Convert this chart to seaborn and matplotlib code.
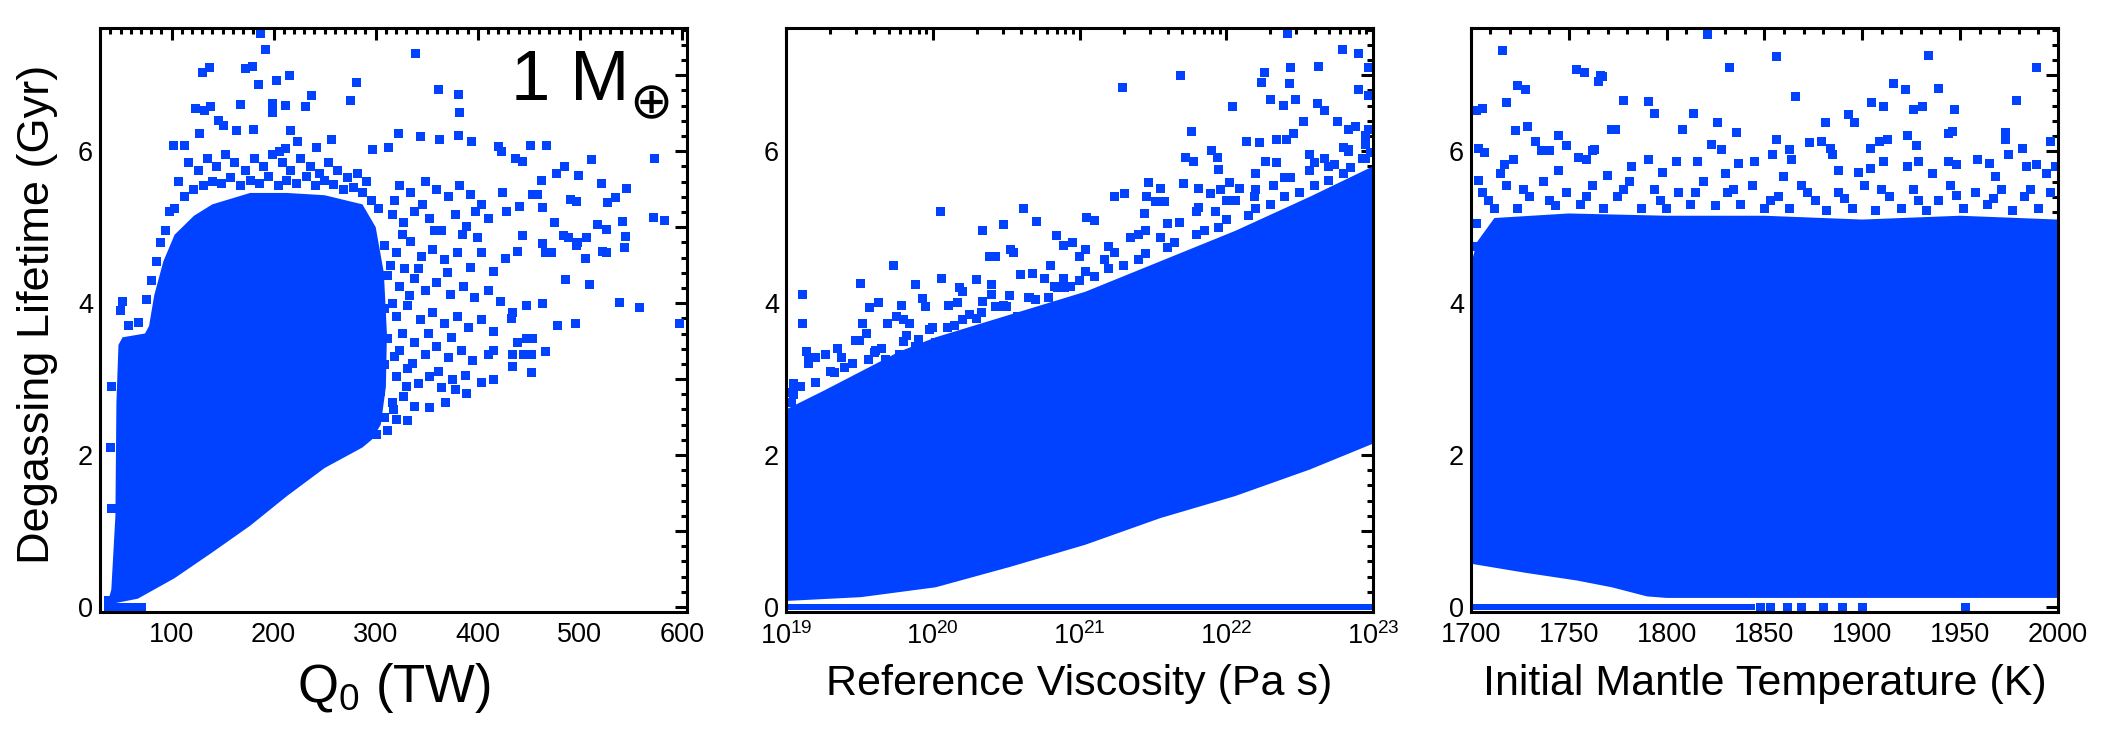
import numpy as np
import matplotlib
matplotlib.use("Agg")
import matplotlib.pyplot as plt
import seaborn as sns
from matplotlib.ticker import MultipleLocator, LogLocator, NullFormatter, FuncFormatter

# ---------------- data ----------------
BLUE = "#0042ff"

# Panel 1: Q0 (TW) vs degassing lifetime (Gyr); densely filled region outline
p1_core_q = [37, 48, 67, 103, 140, 177, 213, 250, 287, 296, 305, 310, 311, 308, 300, 287,
             250, 213, 177, 140, 122, 103, 92, 83, 78, 74, 52, 48, 46, 45, 41, 37]
p1_core_t = [0.03, 0.06, 0.11, 0.38, 0.72, 1.07, 1.46, 1.83, 2.10, 2.20, 2.40, 2.9, 3.6,
             4.4, 5.0, 5.3, 5.42, 5.45, 5.45, 5.3, 5.15, 4.9, 4.55, 4.1, 3.7, 3.6, 3.55,
             3.45, 2.69, 1.2, 0.23, 0.03]
# individual runs outside the dense region (Q0, lifetime)
p1_points = [
    (187, 7.55), (192, 7.34), (130, 7.04), (137, 7.10), (172, 7.09), (179, 7.12), (185, 6.88),
    (203, 6.93), (216, 6.99), (339, 7.28), (281, 6.90), (362, 6.81), (381, 6.74), (382, 6.51),
    (275, 6.67), (237, 6.73), (231, 6.59), (199, 6.63), (199, 6.51), (212, 6.60), (168, 6.62),
    (123, 6.56), (132, 6.53), (138, 6.59), (146, 6.40), (151, 6.34), (164, 6.27), (180, 6.28),
    (217, 6.27), (127, 6.23), (322, 6.23), (344, 6.19), (363, 6.16), (381, 6.20), (257, 6.16),
    (223, 6.13), (242, 6.05), (212, 6.04), (206, 5.99), (102, 6.07), (113, 6.08), (297, 6.02),
    (313, 6.05), (394, 6.13), (420, 6.06), (423, 6.00), (452, 6.08), (467, 6.08), (511, 5.89),
    (573, 5.90), (477, 5.70), (485, 5.80), (499, 5.68), (521, 5.58), (535, 5.39), (546, 5.51),
    (437, 5.90), (444, 5.87), (462, 5.61), (424, 5.46), (454, 5.43), (459, 5.43), (491, 5.36),
    (497, 5.34), (527, 5.33), (572, 5.13), (583, 5.09), (517, 5.04), (526, 4.97), (542, 5.07),
    (428, 5.20), (441, 5.27), (463, 5.26), (484, 4.89), (489, 4.86), (498, 4.80), (507, 4.87),
    (475, 5.06), (463, 4.79), (444, 4.89), (545, 4.88), (544, 4.73), (526, 4.66), (506, 4.59),
    (522, 4.68), (427, 4.59), (439, 4.68), (497, 4.76), (466, 4.66), (472, 4.67), (509, 4.25),
    (486, 4.31), (539, 4.01), (558, 3.94), (448, 3.97), (463, 3.99), (478, 3.70), (496, 3.73),
    (598, 3.73), (434, 3.88), (433, 3.80), (448, 3.53), (454, 3.53), (439, 3.48), (466, 3.36),
    (434, 3.32), (445, 3.32), (453, 3.32), (434, 3.16), (453, 3.09), (415, 3.38), (411, 3.33),
    (415, 2.99), (404, 2.96), (389, 2.81), (378, 2.86), (368, 2.69), (353, 2.63), (331, 2.46),
    (312, 2.32), (301, 2.27),
    (323, 5.55), (334, 5.45), (349, 5.60), (360, 5.50), (371, 5.40), (382, 5.55), (393, 5.43),
    (404, 5.30), (316, 5.16), (327, 5.06), (338, 5.21), (353, 5.11), (364, 4.96), (378, 5.16),
    (389, 5.01), (400, 4.86), (411, 5.11), (309, 4.76), (320, 4.66), (334, 4.81), (345, 4.62),
    (356, 4.71), (367, 4.57), (380, 4.66), (393, 4.47), (404, 4.66), (415, 4.42), (312, 4.37),
    (323, 4.22), (338, 4.32), (349, 4.17), (360, 4.27), (373, 4.12), (386, 4.22), (397, 4.07),
    (411, 4.17), (422, 4.02), (309, 3.93), (320, 3.83), (331, 3.97), (344, 3.78), (356, 3.88),
    (367, 3.73), (380, 3.83), (391, 3.68), (404, 3.78), (415, 3.63), (312, 3.53), (323, 3.38),
    (338, 3.48), (349, 3.33), (360, 3.43), (371, 3.29), (384, 3.38), (395, 3.24), (309, 3.19),
    (320, 3.04), (331, 3.14), (342, 2.94), (353, 3.04), (364, 2.89), (375, 2.99), (305, 2.84),
    (316, 2.69), (327, 2.77), (338, 2.64), (309, 2.50), (320, 2.47),
    (316, 4.00), (318, 3.30), (317, 2.60), (315, 4.50), (326, 3.60), (328, 4.45), (330, 2.90),
    (318, 5.35), (326, 4.90), (333, 4.10), (336, 3.20), (342, 4.45), (346, 5.30), (352, 3.60),
    (358, 4.95), (362, 3.10), (370, 4.40), (374, 3.55), (385, 4.90), (388, 3.05), (398, 5.20),
    (85, 4.55), (94, 4.95), (103, 5.25), (113, 5.40), (122, 5.50), (131, 5.55), (140, 5.60),
    (149, 5.58), (158, 5.65), (168, 5.55), (177, 5.62), (186, 5.58), (195, 5.66), (205, 5.55),
    (213, 5.62), (222, 5.58), (232, 5.66), (241, 5.55), (250, 5.62), (259, 5.56), (268, 5.50),
    (278, 5.52), (287, 5.45), (296, 5.35), (303, 5.25),
    (89, 4.80), (98, 5.20), (107, 5.60), (117, 5.85), (126, 5.75), (135, 5.90), (144, 5.80),
    (153, 5.95), (162, 5.85), (172, 5.75), (181, 5.90), (190, 5.80), (199, 5.95), (209, 5.85),
    (217, 5.75), (226, 5.90), (236, 5.80), (245, 5.70), (254, 5.85), (263, 5.75), (272, 5.65),
    (282, 5.70), (291, 5.60),
    (80, 4.30), (75, 4.05), (68, 3.75), (58, 3.70), (50, 3.90), (52, 4.02), (41, 2.90),
    (40, 2.10), (41, 1.30), (38, 0.08)]
p1_zero_q = [38, 41, 44, 47, 50, 53, 56, 59, 62, 65, 68, 71]
p1_zero_t = [0.0] * len(p1_zero_q)

# Panel 2: log10 reference viscosity (Pa s) vs lifetime (Gyr)
p2_core_e = [19.0, 19.51, 20.02, 20.53, 21.04, 21.55, 22.06, 22.57, 23.0,
             23.0, 22.57, 22.06, 21.55, 21.04, 20.53, 20.02, 19.77, 19.51, 19.26, 19.0]
p2_core_t = [0.08, 0.13, 0.26, 0.53, 0.82, 1.17, 1.46, 1.81, 2.15,
             5.80, 5.40, 4.95, 4.55, 4.15, 3.85, 3.55, 3.36, 3.10, 2.85, 2.60]
p2_points = [
    (22.42, 7.55), (22.79, 7.34), (22.90, 7.28), (22.63, 7.11), (22.97, 7.10), (21.69, 7.00),
    (22.26, 7.04), (22.24, 6.91), (22.44, 7.10), (22.43, 6.89), (21.29, 6.84), (22.30, 6.68),
    (22.47, 6.68), (22.04, 6.59), (22.39, 6.60), (22.62, 6.63), (22.67, 6.53), (22.90, 6.81),
    (22.97, 6.73), (22.53, 6.39), (22.76, 6.39), (22.83, 6.28), (22.88, 6.33), (22.97, 6.29),
    (21.76, 6.26), (22.46, 6.23), (22.14, 6.13), (22.23, 6.11), (22.34, 6.16), (22.41, 6.16),
    (21.90, 6.01), (21.72, 5.92), (21.78, 5.86), (21.94, 5.92), (21.95, 5.76), (20.05, 5.20),
    (20.62, 5.25), (21.24, 5.40), (21.31, 5.44), (21.47, 5.59), (21.46, 5.40), (21.55, 5.51),
    (21.52, 5.34), (21.58, 5.34), (21.71, 5.57), (21.81, 5.51), (21.89, 5.44), (21.96, 5.49),
    (22.02, 5.59), (22.09, 5.51), (22.20, 5.70), (22.27, 5.86), (22.34, 5.85), (22.57, 5.95),
    (22.67, 5.90), (22.74, 5.82), (22.83, 6.02), (22.93, 5.90), (21.44, 5.18), (21.05, 5.13),
    (21.10, 5.09), (20.34, 4.96), (20.48, 5.04), (20.71, 5.08), (20.84, 4.89), (20.89, 4.76),
    (20.95, 4.80), (21.04, 4.71), (20.53, 4.71), (20.39, 4.62), (20.43, 4.61), (20.55, 4.66),
    (19.73, 4.50), (19.88, 4.25), (20.06, 4.33), (20.18, 4.20), (20.30, 4.31), (19.51, 4.26),
    (19.11, 4.12), (19.11, 3.73), (19.57, 3.94), (19.63, 4.01), (19.79, 3.97), (19.93, 4.06),
    (20.11, 3.97), (20.17, 4.01), (20.34, 4.02), (20.40, 4.12), (20.48, 3.97), (20.52, 4.10),
    (20.68, 4.39), (20.76, 4.33), (20.83, 4.22), (20.89, 4.33), (19.52, 3.73), (19.69, 3.73),
    (19.80, 3.79), (19.84, 3.73), (19.98, 3.65), (19.27, 3.33), (19.47, 3.51), (19.50, 3.51),
    (19.14, 3.36), (19.15, 3.28), (19.05, 2.94), (19.04, 2.82), (19.04, 2.69),
    (19.20, 3.28), (19.33, 3.09), (19.38, 3.28), (19.56, 3.26), (19.61, 3.38), (19.68, 3.26),
    (19.77, 3.33), (19.82, 3.58), (19.88, 3.43), (20.02, 3.48), (20.10, 3.68), (20.20, 3.78),
    (20.33, 3.88), (20.43, 3.95), (20.58, 3.83), (20.66, 4.07), (20.79, 4.07), (20.94, 4.22),
    (21.04, 4.42), (21.17, 4.57), (21.24, 4.66), (21.35, 4.86), (21.45, 4.96), (21.55, 4.86),
    (21.68, 5.06), (21.81, 5.26), (21.93, 5.21), (22.06, 5.35), (22.19, 5.40), (22.32, 5.55),
    (22.44, 5.65), (22.57, 5.75), (22.70, 5.80), (22.83, 6.00), (22.95, 6.09),
    (19.10, 2.90), (19.30, 3.10), (19.45, 3.20), (19.65, 3.40), (19.90, 3.52), (20.15, 3.70),
    (20.30, 3.80), (20.50, 3.95), (20.70, 4.05), (20.90, 4.20), (21.10, 4.35), (21.30, 4.50),
    (21.45, 4.65), (21.65, 4.80), (21.85, 4.95), (22.00, 5.10), (22.20, 5.25), (22.40, 5.40),
    (22.60, 5.55), (22.80, 5.70), (22.95, 5.90),
    (19.05, 2.80), (19.20, 2.95), (19.40, 3.15), (19.60, 3.35), (19.80, 3.50), (20.00, 3.68),
    (20.25, 3.85), (20.45, 3.95), (20.65, 4.08), (20.85, 4.20), (21.00, 4.30), (21.20, 4.45),
    (21.40, 4.58), (21.60, 4.73), (21.80, 4.90), (21.95, 5.00), (22.15, 5.15), (22.30, 5.30),
    (22.50, 5.45), (22.70, 5.62), (22.85, 5.78), (22.98, 5.98),
    (19.15, 3.20), (19.35, 3.40), (19.55, 3.60), (19.75, 3.82), (19.95, 3.95), (20.20, 4.15),
    (20.40, 4.25), (20.60, 4.38), (20.80, 4.50), (21.00, 4.62), (21.20, 4.75), (21.40, 4.90),
    (21.60, 5.05), (21.80, 5.20), (22.00, 5.35), (22.20, 5.50), (22.40, 5.65), (22.60, 5.85),
    (22.80, 6.05), (22.95, 6.20)]
p2_zero_e = [19.0, 23.0, 23.0, 19.0]
p2_zero_t = [-0.035, -0.035, 0.035, 0.035]

# Panel 3: initial mantle temperature (K) vs lifetime (Gyr)
p3_core_k = [1700, 1728, 1754, 1772, 1790, 1800, 1900, 2000, 2000, 1950, 1900, 1850, 1800,
             1750, 1712, 1703, 1700]
p3_core_t = [0.57, 0.45, 0.35, 0.26, 0.14, 0.12, 0.12, 0.12, 5.10, 5.15, 5.10, 5.15, 5.15,
             5.18, 5.12, 4.80, 4.50]
p3_points = [
    (1716, 7.33), (1703, 6.53), (1706, 6.56), (1718, 6.64), (1724, 6.87), (1728, 6.81),
    (1729, 6.33), (1723, 6.27), (1733, 6.13), (1736, 6.01), (1740, 6.01), (1704, 6.04),
    (1707, 5.98), (1704, 5.61), (1717, 5.83), (1722, 5.89), (1745, 6.20), (1749, 6.07),
    (1754, 7.08), (1758, 7.04), (1766, 6.99), (1765, 6.92), (1755, 5.92), (1759, 5.89),
    (1762, 6.01), (1772, 6.29), (1821, 7.53), (1856, 7.24), (1832, 7.10), (1934, 7.26),
    (1989, 7.10), (1767, 6.98), (1778, 6.67), (1791, 6.66), (1794, 6.50), (1814, 6.50),
    (1866, 6.72), (1916, 6.89), (1922, 6.81), (1905, 6.64), (1911, 6.59), (1926, 6.55),
    (1931, 6.59), (1939, 6.83), (1947, 6.55), (1979, 6.67), (1893, 6.48), (1896, 6.38),
    (1881, 6.38), (1826, 6.38), (1774, 6.28), (1808, 6.28), (1836, 6.25), (1944, 6.23),
    (1946, 6.26), (1973, 6.24), (1973, 6.16), (1856, 6.16), (1879, 6.13), (1923, 6.20),
    (1909, 6.13), (1913, 6.16), (1996, 6.13), (1763, 6.02), (1823, 6.09), (1828, 6.02),
    (1863, 6.02), (1873, 6.12), (1884, 6.04), (1885, 5.95), (1904, 6.04), (1928, 6.07),
    (1975, 5.96), (1982, 6.04), (1854, 5.95), (1864, 5.89), (1782, 5.80), (1791, 5.89),
    (1805, 5.86), (1816, 5.86), (1837, 5.84), (1845, 5.86), (1888, 5.75), (1904, 5.77),
    (1911, 5.86), (1923, 5.80), (1929, 5.86), (1944, 5.86), (1948, 5.83), (1959, 5.89),
    (1965, 5.84), (1984, 5.80), (1989, 5.83), (1999, 5.80),
    (1706, 5.45), (1712, 5.25), (1718, 5.55), (1724, 5.25), (1730, 5.40), (1737, 5.60),
    (1743, 5.28), (1749, 5.45), (1756, 5.30), (1762, 5.55), (1768, 5.25), (1775, 5.40),
    (1781, 5.60), (1787, 5.25), (1794, 5.50), (1800, 5.25), (1806, 5.45), (1812, 5.30),
    (1819, 5.60), (1825, 5.28), (1831, 5.45), (1838, 5.30), (1844, 5.55), (1850, 5.25),
    (1857, 5.40), (1863, 5.25), (1869, 5.55), (1876, 5.35), (1882, 5.22), (1888, 5.45),
    (1895, 5.25), (1901, 5.55), (1907, 5.22), (1914, 5.40), (1920, 5.25), (1926, 5.50),
    (1933, 5.22), (1939, 5.35), (1945, 5.55), (1952, 5.25), (1958, 5.45), (1964, 5.30),
    (1971, 5.50), (1977, 5.22), (1983, 5.40), (1990, 5.25), (1996, 5.45),
    (1709, 5.35), (1727, 5.50), (1740, 5.35), (1759, 5.40), (1778, 5.50), (1797, 5.35),
    (1815, 5.45), (1834, 5.50), (1853, 5.35), (1872, 5.45), (1891, 5.38), (1910, 5.50),
    (1929, 5.35), (1948, 5.42), (1967, 5.38), (1986, 5.50),
    (1715, 5.70), (1745, 5.75), (1770, 5.68), (1798, 5.72), (1830, 5.70), (1860, 5.66),
    (1898, 5.72), (1936, 5.70), (1968, 5.66), (1994, 5.70), (1703, 5.05), (1701, 4.75)]
p3_zero_band_k = [1700, 1845, 1845, 1700]
p3_zero_band_t = [-0.035, -0.035, 0.035, 0.035]
p3_zero_k = [1848, 1853, 1862, 1869, 1880, 1890, 1900, 1953]
p3_zero_t = [0.0] * len(p3_zero_k)

# ---------------- style ----------------
sns.set_theme(style="white")
plt.rcParams["font.family"] = ["Liberation Sans", "DejaVu Sans"]
plt.rcParams["mathtext.fontset"] = "custom"
plt.rcParams["mathtext.rm"] = "Liberation Sans"
plt.rcParams["mathtext.it"] = "Liberation Sans:italic"
plt.rcParams["mathtext.bf"] = "Liberation Sans:bold"
for k in ("text.color", "axes.labelcolor", "xtick.color", "ytick.color", "axes.edgecolor"):
    plt.rcParams[k] = "black"

fig = plt.figure(figsize=(21.25, 7.33), dpi=100)
bottom, height, width = 0.165, 0.7967, 0.2762
ax1 = fig.add_axes([0.0471, bottom, width, height])
ax2 = fig.add_axes([0.3699, bottom, width, height])
ax3 = fig.add_axes([0.6922, bottom, width, height])

MS = 42

def scatter(ax, x, y):
    sns.scatterplot(x=np.asarray(x, float), y=np.asarray(y, float), ax=ax, marker="s",
                    s=MS, color=BLUE, linewidth=0, edgecolor="none", legend=False)

def unzip(pairs):
    a = np.array(pairs, float)
    return a[:, 0], a[:, 1]

# panel 1
ax1.fill(p1_core_q, p1_core_t, color=BLUE, lw=0)
q, t = unzip(p1_points)
scatter(ax1, q, t)
scatter(ax1, p1_zero_q, p1_zero_t)

# panel 2
ax2.set_xscale("log")
ax2.fill(10.0 ** np.array(p2_core_e), p2_core_t, color=BLUE, lw=0)
ax2.fill(10.0 ** np.array(p2_zero_e), p2_zero_t, color=BLUE, lw=0)
e, t = unzip(p2_points)
scatter(ax2, 10.0 ** e, t)

# panel 3
ax3.fill(p3_core_k, p3_core_t, color=BLUE, lw=0)
ax3.fill(p3_zero_band_k, p3_zero_band_t, color=BLUE, lw=0)
k, t = unzip(p3_points)
scatter(ax3, k, t)
scatter(ax3, p3_zero_k, p3_zero_t)

ax1.set_xlim(30, 605)
ax2.set_xlim(1e19, 1e23)
ax3.set_xlim(1700, 2000)

even_only = FuncFormatter(lambda v, p: f"{int(round(v))}" if int(round(v)) % 2 == 0 else "")

for ax in (ax1, ax2, ax3):
    ax.set_ylim(-0.066, 7.62)
    ax.yaxis.set_major_locator(MultipleLocator(1))
    ax.yaxis.set_major_formatter(even_only)
    ax.yaxis.set_minor_locator(MultipleLocator(0.2))
    ax.tick_params(which="both", direction="in", top=True, right=True, width=2.2,
                   labelsize=19.5, colors="black")
    ax.tick_params(which="major", length=8.6)
    ax.tick_params(which="minor", length=4.6)
    ax.tick_params(axis="x", which="both", pad=7)
    ax.tick_params(axis="y", which="both", pad=5)
    for sp in ax.spines.values():
        sp.set_linewidth(2.2)
        sp.set_color("black")
    ax.set_ylabel("")

ax1.xaxis.set_major_locator(MultipleLocator(100))
ax1.xaxis.set_minor_locator(MultipleLocator(10))
ax3.xaxis.set_major_locator(MultipleLocator(50))
ax3.xaxis.set_minor_locator(MultipleLocator(10))
ax2.xaxis.set_major_locator(LogLocator(base=10, numticks=10))
ax2.xaxis.set_minor_locator(LogLocator(base=10, subs=np.arange(2, 10), numticks=100))
ax2.xaxis.set_minor_formatter(NullFormatter())

ax1.set_xlabel(r"Q$_0$ (TW)", fontsize=38)
ax2.set_xlabel("Reference Viscosity (Pa s)", fontsize=31)
ax3.set_xlabel("Initial Mantle Temperature (K)", fontsize=31)
ax1.xaxis.set_label_coords(0.5, -0.083)
ax2.xaxis.set_label_coords(0.5, -0.089)
ax3.xaxis.set_label_coords(0.5, -0.089)

ax1.set_ylabel("Degassing Lifetime (Gyr)", fontsize=32.5)
ax1.yaxis.set_label_coords(-0.072, 0.51)

ax1.text(0.700, 0.877, "1 M", transform=ax1.transAxes, fontsize=51,
         ha="left", va="baseline")
ax1.text(0.939, 0.845, "\u2295", transform=ax1.transAxes, fontsize=37,
         family=["DejaVu Sans"], ha="center", va="baseline")

fig.savefig("out.png", dpi=100)
